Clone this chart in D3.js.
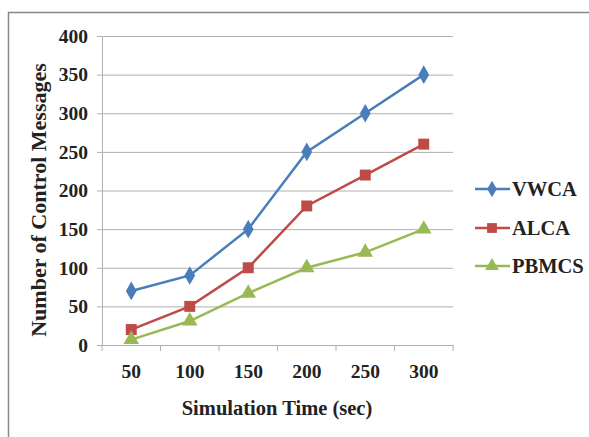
<!DOCTYPE html>
<html><head><meta charset="utf-8">
<script src="https://cdn.jsdelivr.net/npm/d3@7"></script>
<style>body{margin:0;background:#fff}svg{display:block}text{font-family:"Liberation Serif","Times New Roman",serif;font-weight:bold;fill:#222}</style>
</head><body><svg id="c" width="589" height="437"></svg>
<script>
const categories = ["50","100","150","200","250","300"];
const vwca = [70, 90, 150, 250, 300, 350];
const alca = [20, 50, 100, 180, 220, 260];
const pbmcs = [7, 31, 67, 100, 120, 150];
const yTicks = [0,50,100,150,200,250,300,350,400];
const seriesNames = ["VWCA","ALCA","PBMCS"];
const colors = ["#4A7EBB","#BE4B48","#98B954"];

const svg = d3.select("#c");
svg.append("path").attr("d","M8.5,437 V12.5 H589").attr("fill","none").attr("stroke","#888").attr("stroke-width",1.5);

const L=102, R=453, T=36, B=345;
const x = d3.scaleBand().domain(categories).range([L,R]);
const y = d3.scaleLinear().domain([0,400]).range([B,T]);

svg.append("g").selectAll("line").data(yTicks).join("line")
  .attr("x1",L).attr("x2",R).attr("y1",d=>y(d)+0.5).attr("y2",d=>y(d)+0.5)
  .attr("stroke","#b0b0b0").attr("stroke-width",1);

const ya = svg.append("g").attr("transform",`translate(${L},0)`)
  .call(d3.axisLeft(y).tickValues(yTicks).tickSize(5).tickPadding(9));
ya.select(".domain").attr("stroke","#b0b0b0");
ya.selectAll(".tick line").attr("stroke","#b0b0b0");
ya.selectAll("text").attr("font-size",19.5).attr("fill","#222").attr("font-family",null);

const xa = svg.append("g").attr("transform",`translate(0,${B})`)
  .call(d3.axisBottom(x).tickSize(0).tickPadding(19));
xa.select(".domain").attr("stroke","#b0b0b0");
xa.selectAll("text").attr("font-size",19.5).attr("fill","#222").attr("font-family",null);
const bounds = categories.map(c=>x(c)).concat([R]);
svg.append("g").selectAll("line").data(bounds).join("line")
  .attr("x1",d=>d).attr("x2",d=>d).attr("y1",B).attr("y2",B+6)
  .attr("stroke","#b0b0b0");

svg.append("text").attr("x",277).attr("y",415).attr("text-anchor","middle").attr("font-size",20.5).text("Simulation Time (sec)");
svg.append("text").attr("transform","translate(46,200) rotate(-90)").attr("text-anchor","middle").attr("font-size",22).text("Number of Control Messages");

const data=[vwca,alca,pbmcs];
const line = d3.line().x((d,i)=>x(categories[i])+x.bandwidth()/2).y(d=>y(d));
const sym = [d3.symbolDiamond, d3.symbolSquare, d3.symbolTriangle];
const sizes=[100,120,105];
data.forEach((s,k)=>{
  svg.append("path").datum(s).attr("d",line).attr("fill","none").attr("stroke",colors[k]).attr("stroke-width",2.5);
  svg.append("g").selectAll("path").data(s).join("path")
    .attr("transform",(d,i)=>`translate(${x(categories[i])+x.bandwidth()/2},${y(d)})`)
    .attr("d",d3.symbol().type(sym[k]).size(sizes[k])).attr("fill",colors[k]);
});

const ly=[189,228,266];
seriesNames.forEach((n,k)=>{
  const g=svg.append("g").attr("transform",`translate(0,${ly[k]})`);
  g.append("line").attr("x1",475).attr("x2",510).attr("stroke",colors[k]).attr("stroke-width",2.5);
  g.append("path").attr("transform","translate(492,0)").attr("d",d3.symbol().type(sym[k]).size(sizes[k]*0.8)).attr("fill",colors[k]);
  g.append("text").attr("x",512).attr("y",7).attr("font-size",20.5).text(n);
});
</script></body></html>
